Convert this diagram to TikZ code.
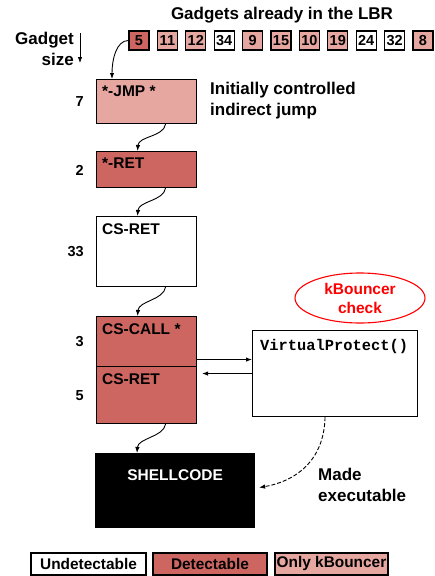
\documentclass[tikz,border=0pt]{standalone}
\usepackage{fontspec}
\setmainfont{Liberation Sans}
\setmonofont{Liberation Mono}
\usetikzlibrary{shapes}
\usetikzlibrary{arrows.meta}
\tikzset{>={Latex[length=6pt,width=4.5pt]}}
\definecolor{detect}{RGB}{205,101,96}
\definecolor{onlykb}{RGB}{230,167,161}

\begin{document}
\begin{tikzpicture}[x=1pt, y=-1pt, font=\bfseries]
\tikzset{gadget/.style={draw, line width=1.1pt, anchor=north west, inner sep=0pt, minimum width=100pt}}
\tikzset{gtext/.style={anchor=north west, inner sep=0pt, font=\fontsize{15.5}{17}\bfseries}}
\tikzset{lbr/.style={draw, line width=1.1pt, minimum width=20pt, minimum height=19pt, inner sep=0pt, font=\fontsize{14.5}{16}\bfseries}}
\tikzset{sizenum/.style={anchor=east, inner sep=0pt, font=\fontsize{14.5}{16}\bfseries}}
\tikzset{note/.style={anchor=north west, inner sep=0pt, align=left, font=\fontsize{17}{21}\bfseries}}
\tikzset{legend/.style={draw, line width=1.1pt, minimum height=22pt, inner sep=0pt, font=\fontsize{15.4}{17}\bfseries}}
\tikzset{flow/.style={->, line width=0.9pt}}
    \useasboundingbox (0,0) rectangle (435,576);

    % gadgets in the LBR
    \node[font=\fontsize{17}{19}\bfseries] (title) at (282,15) {Gadgets already in the LBR};
    \foreach \v/\c [count=\i] in {5/detect,11/onlykb,12/onlykb,34/white,9/onlykb,15/onlykb,10/onlykb,19/onlykb,24/white,32/white,8/onlykb}
        \node[lbr, fill=\c] (g\i) at ({139+28.4*(\i-1)},40.5) {\v};

    \node[note, anchor=north east, align=right] (gsize) at (74,32) {Gadget\\size};
    \coordinate (sztop) at (80,33);
    \coordinate (szbot) at (80,63);
    \draw[flow, line width=0.8pt] (sztop) -- (szbot);

    % gadget chain
    \node[gadget, fill=onlykb, minimum height=44pt] (jmp) at (96,79) {};
    \node[gadget, fill=detect, minimum height=36pt] (ret1) at (96,151) {};
    \node[gadget, fill=white, minimum height=70pt] (cs1) at (96,216) {};
    \node[gadget, fill=detect, minimum height=50pt] (call) at (96,316) {};
    \node[gadget, fill=detect, minimum height=57pt] (ret2) at (96,366) {};
    \node[gadget, fill=black, minimum width=159pt, minimum height=74pt] (shell) at (95,453) {};

    \node[gtext] (jmptxt) at ([shift={(6,7)}]jmp.north west) {*-JMP *};
    \node[gtext] (ret1txt) at ([shift={(6,7)}]ret1.north west) {*-RET};
    \node[gtext] (cs1txt) at ([shift={(6,7)}]cs1.north west) {CS-RET};
    \node[gtext] (calltxt) at ([shift={(6,7)}]call.north west) {CS-CALL *};
    \node[gtext] (ret2txt) at ([shift={(6,7)}]ret2.north west) {CS-RET};
    \node[gtext, anchor=north, text=white] (shelltxt) at ([shift={(0,16)}]shell.north) {SHELLCODE};

    \node[sizenum] (n7) at (84,102) {7};
    \node[sizenum] (n2) at (84,170) {2};
    \node[sizenum] (n33) at (84,252) {33};
    \node[sizenum] (n3) at (84,342) {3};
    \node[sizenum] (n5) at (84,396) {5};

    \node[note] (initial) at (210,82) {Initially controlled\\indirect jump};

    % VirtualProtect and kBouncer
    \node[gadget, fill=white, minimum width=165pt, minimum height=86pt] (vp) at (252,330) {};
    \node[gtext, font=\fontsize{15.4}{17}\ttfamily\bfseries] (vptxt) at ([shift={(8,9)}]vp.north west) {VirtualProtect()};
    \node[ellipse, draw=red, line width=1.1pt, minimum width=130pt, minimum height=50pt, inner sep=0pt,
          text=red, align=center, font=\fontsize{15.5}{19}\bfseries] (kb) at (360,298) {kBouncer\\check};
    \node[note] (made) at (318,468) {Made\\executable};

    % chain flow
    \draw[flow] (g1.west) .. controls +(-12,0) and +(0,-20) .. ([xshift=16pt]jmp.north west);
    \draw[flow] ([xshift=19pt]jmp.south) .. controls +(-2,13) and +(1,-15) .. ([xshift=-9pt]ret1.north);
    \draw[flow] ([xshift=19pt]ret1.south) .. controls +(-2,13) and +(1,-15) .. ([xshift=-9pt]cs1.north);
    \draw[flow] ([xshift=19pt]cs1.south) .. controls +(-2,13) and +(1,-15) .. ([xshift=-9pt]call.north);
    \draw[flow] ([xshift=19pt]ret2.south) .. controls +(-2,13) and +(1,-15) .. ([xshift=42pt]shell.north west);

    \coordinate (cin) at ([yshift=14pt]vp.west);
    \draw[flow] (cin -| call.east) -- (cin);
    \draw[flow, shorten >=5pt] (vp.west) -- (vp.west -| ret2.east);
    \draw[flow, dash pattern=on 4pt off 2pt] ([xshift=-10pt]vp.south) .. controls +(-1,45) and +(35,-6) .. ([shift={(4,-3)}]shell.east);

    % legend
    \node[legend, fill=white, minimum width=115pt] (lund) at (88.5,564) {Undetectable};
    \node[legend, fill=detect, minimum width=114pt] (ldet) at (210,564) {Detectable};
    \node[legend, fill=onlykb, minimum width=113pt] (lkb) at (331.5,564) {Only kBouncer};
\end{tikzpicture}
\end{document}
